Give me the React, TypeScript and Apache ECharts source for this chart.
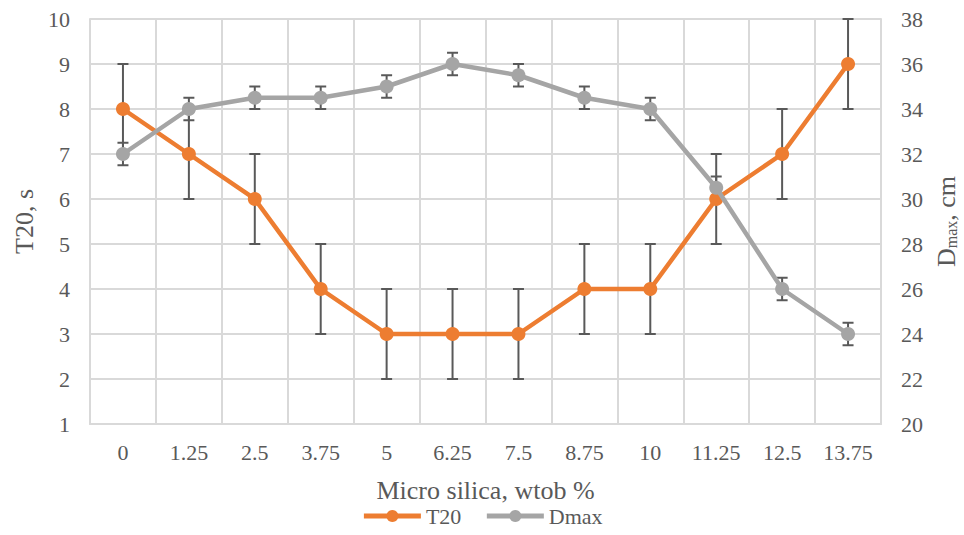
import React, { useEffect, useRef } from "react";
import * as echarts from "echarts";

const categories = ["0", "1.25", "2.5", "3.75", "5", "6.25", "7.5", "8.75", "10", "11.25", "12.5", "13.75"];
const t20 = [8, 7, 6, 4, 3, 3, 3, 4, 4, 6, 7, 9];
const t20Err = [1, 1, 1, 1, 1, 1, 1, 1, 1, 1, 1, 1];
const dmax = [32, 34, 34.5, 34.5, 35, 36, 35.5, 34.5, 34, 30.5, 26, 24];
const dmaxErr = [0.5, 0.5, 0.5, 0.5, 0.5, 0.5, 0.5, 0.5, 0.5, 0.5, 0.5, 0.5];

const FONT = "Liberation Serif";
const TXT = "#595959";
const GRID = "#D9D9D9";

function errRender(params: any, api: any) {
  const x = api.value(0);
  const lo = api.coord([x, api.value(1)]);
  const hi = api.coord([x, api.value(2)]);
  const w = 5.5;
  const style = { stroke: "#595959", lineWidth: 2 };
  return {
    type: "group",
    children: [
      { type: "line", shape: { x1: lo[0], y1: lo[1], x2: hi[0], y2: hi[1] }, style },
      { type: "line", shape: { x1: lo[0] - w, y1: lo[1], x2: lo[0] + w, y2: lo[1] }, style },
      { type: "line", shape: { x1: hi[0] - w, y1: hi[1], x2: hi[0] + w, y2: hi[1] }, style },
    ],
  };
}

export default function App() {
  const ref = useRef<HTMLDivElement>(null);
  useEffect(() => {
    if (!ref.current) return;
    const chart = echarts.init(ref.current, undefined, { renderer: "svg" });
    chart.setOption({
      animation: false,
      textStyle: { fontFamily: FONT, color: TXT },
      grid: { left: 90, right: 83, top: 19, bottom: 111, containLabel: false, outerBoundsMode: "none" },
      legend: {
        data: ["T20", "Dmax"],
        bottom: 3,
        left: "center",
        itemWidth: 57,
        itemHeight: 15,
        itemGap: 23,
        lineStyle: { width: 5 },
        textStyle: { fontFamily: FONT, fontSize: 22, color: TXT },
      },
      xAxis: {
        type: "category",
        data: categories,
        boundaryGap: true,
        name: "Micro silica, wtob %",
        nameLocation: "middle",
        nameGap: 53,
        nameTextStyle: { fontFamily: FONT, fontSize: 26, color: TXT },
        axisLine: { lineStyle: { color: GRID, width: 2 } },
        axisTick: { show: false },
        axisLabel: { fontFamily: FONT, fontSize: 22, color: TXT, margin: 17 },
        splitLine: { show: true, lineStyle: { color: GRID, width: 2 } },
      },
      yAxis: [
        {
          type: "value",
          min: 1,
          max: 10,
          interval: 1,
          name: "T20, s",
          nameLocation: "middle",
          nameRotate: 90,
          nameGap: 53,
          nameTextStyle: { fontFamily: FONT, fontSize: 26, color: TXT },
          axisLine: { show: true, lineStyle: { color: GRID, width: 2 } },
          axisTick: { show: false },
          axisLabel: { fontFamily: FONT, fontSize: 22, color: TXT, margin: 20 },
          splitLine: { show: true, lineStyle: { color: GRID, width: 2 } },
        },
        {
          type: "value",
          min: 20,
          max: 38,
          interval: 2,
          name: "{d|D}{s|max}{d|, cm}",
          nameLocation: "middle",
          nameRotate: 90,
          nameGap: 47,
          nameTextStyle: {
            fontFamily: FONT,
            color: TXT,
            rich: {
              d: { fontFamily: FONT, fontSize: 26, color: TXT, verticalAlign: "bottom" },
              s: { fontFamily: FONT, fontSize: 16, color: TXT, verticalAlign: "bottom" },
            },
          },
          axisLine: { show: true, lineStyle: { color: GRID, width: 2 } },
          axisTick: { show: false },
          axisLabel: { fontFamily: FONT, fontSize: 22, color: TXT, margin: 20 },
          splitLine: { show: false },
        },
      ],
      series: [
        {
          type: "custom",
          name: "T20err",
          yAxisIndex: 0,
          z: 1,
          renderItem: errRender,
          data: t20.map((v, i) => [i, v - t20Err[i], v + t20Err[i]]),
          encode: { x: 0, y: [1, 2] },
          silent: true,
        },
        {
          type: "custom",
          name: "Dmaxerr",
          yAxisIndex: 1,
          z: 1,
          renderItem: errRender,
          data: dmax.map((v, i) => [i, v - dmaxErr[i], v + dmaxErr[i]]),
          encode: { x: 0, y: [1, 2] },
          silent: true,
        },
        {
          type: "line",
          name: "T20",
          yAxisIndex: 0,
          z: 3,
          data: t20,
          symbol: "circle",
          symbolSize: 14,
          color: "#ED7D31",
          lineStyle: { color: "#ED7D31", width: 4.5 },
          itemStyle: { color: "#ED7D31" },
        },
        {
          type: "line",
          name: "Dmax",
          yAxisIndex: 1,
          z: 4,
          data: dmax,
          symbol: "circle",
          symbolSize: 14,
          color: "#A5A5A5",
          lineStyle: { color: "#A5A5A5", width: 4.5 },
          itemStyle: { color: "#A5A5A5" },
        },
      ],
    });
    return () => chart.dispose();
  }, []);
  return <div ref={ref} style={{ width: 964, height: 535, position: "absolute", left: 0, top: 0 }} />;
}
